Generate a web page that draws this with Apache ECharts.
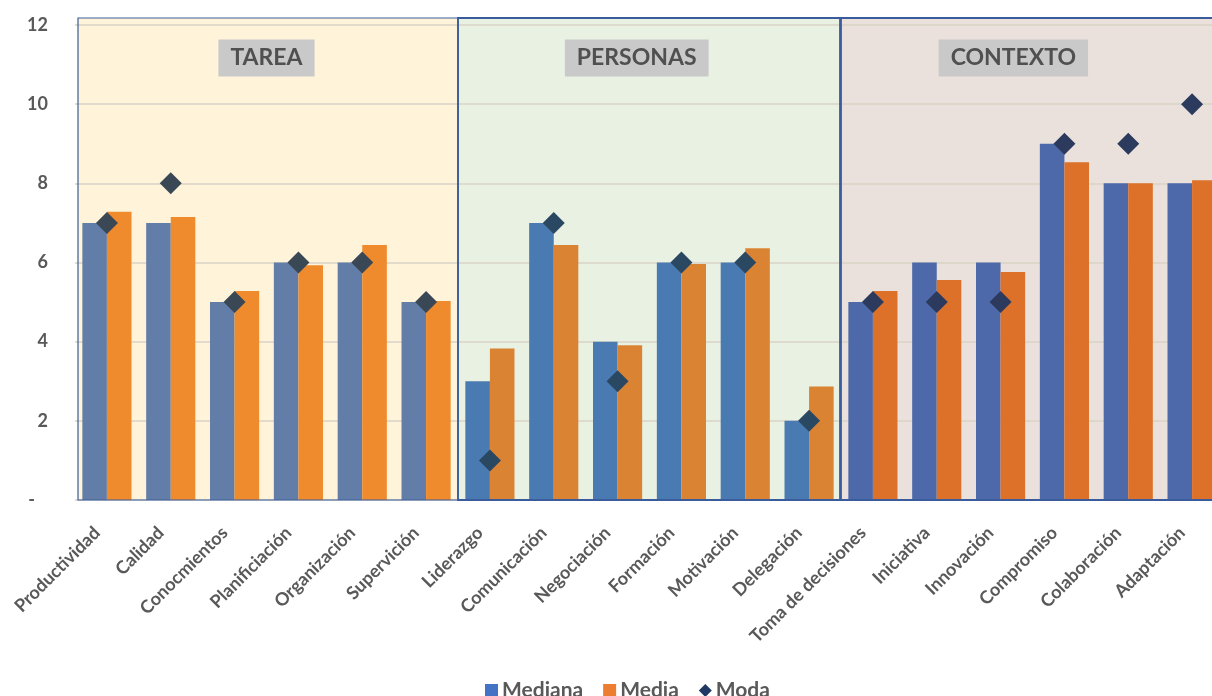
<!DOCTYPE html>
<html>
<head>
<meta charset="utf-8">
<script src="https://cdn.jsdelivr.net/npm/echarts@6/dist/echarts.min.js"></script>
<style>
  html, body { margin: 0; padding: 0; background: #ffffff; overflow: hidden; }
  /* el área de trazado continúa un poco más allá del borde derecho */
  #chart { width: 1224px; height: 696px; }
</style>
</head>
<body>
<div id="chart"></div>
<script>
// Competencias evaluadas
const categories = [
  'Productividad', 'Calidad', 'Conocmientos', 'Planificiación', 'Organización', 'Supervición',
  'Liderazgo', 'Comunicación', 'Negociación', 'Formación', 'Motivación', 'Delegación',
  'Toma de decisiones', 'Iniciativa', 'Innovación', 'Compromiso', 'Colaboración', 'Adaptación'
];

// Estadísticos por competencia
const mediana = [7, 7, 5, 6, 6, 5, 3, 7, 4, 6, 6, 2, 5, 6, 6, 9, 8, 8];
const media   = [7.28, 7.15, 5.28, 5.93, 6.44, 5.03, 3.83, 6.44, 3.91, 5.96, 6.36, 2.87, 5.28, 5.56, 5.76, 8.53, 8.0, 8.08];
const moda    = [7, 8, 5, 6, 6, 5, 1, 7, 3, 6, 6, 2, 5, 5, 5, 9, 9, 10];

// Bloques de competencias: primera y última categoría, y posición del rótulo
const bloques      = ['TAREA', 'PERSONAS', 'CONTEXTO'];
const bloqueInicio = [0, 6, 12];
const bloqueFin    = [5, 11, 17];
const rotuloPos    = [2.5, 8.3, 14.2];

// Etiquetas del eje vertical
const yTicks = [0, 2, 4, 6, 8, 10, 12];

// Paleta de cada bloque
const fondoBloque   = ['#FFF4DA', '#E9F1E3', '#EBE1DC'];
const colorMediana  = ['#627EA8', '#4A7AB2', '#4D69A9'];
const colorMedia    = ['#EF8A2D', '#DA8333', '#DD7129'];
const colorModa     = ['#3A4856', '#2B4863', '#2C3A5E'];

function bloqueDe(idx) {
  for (let b = 0; b < bloques.length; b++) {
    if (idx >= bloqueInicio[b] && idx <= bloqueFin[b]) return b;
  }
  return 0;
}

const panelData = bloques.map((nombre, i) => [bloqueInicio[i], bloqueFin[i], rotuloPos[i], i]);

const chart = echarts.init(document.getElementById('chart'), null, { renderer: 'canvas' });

const FONT = 'Lato, "Open Sans", sans-serif';

// Rectángulo de un bloque en píxeles
function marcoBloque(api, b) {
  const band = api.size([1, 0])[0];
  const pIni = api.coord([api.value(0), 0]);
  const pFin = api.coord([api.value(1), 0]);
  const pTop = api.coord([api.value(0), 12]);
  const x0 = pIni[0] - band / 2 + (b === 0 ? 3 : 0);
  const x1 = pFin[0] + band / 2 - (b === 1 ? 1 : 0);
  const y0 = pTop[1] - 7;
  const y1 = pIni[1];
  return { x0, x1, y0, y1, band };
}

chart.setOption({
  animation: false,
  backgroundColor: '#ffffff',
  grid: { left: 75, top: 25, right: 0, bottom: 196, containLabel: false },
  legend: {
    data: [
      { name: 'Mediana', icon: 'rect' },
      { name: 'Media', icon: 'rect' },
      { name: 'Moda', icon: 'diamond' }
    ],
    left: 480,
    top: 675,
    itemWidth: 13,
    itemHeight: 13,
    itemGap: 20,
    textStyle: { fontFamily: FONT, fontWeight: 'bold', fontSize: 21, color: '#595959', padding: [0, 0, 0, -1] }
  },
  xAxis: {
    type: 'category',
    data: categories,
    axisLine: { show: false },
    axisTick: { show: false },
    axisLabel: {
      interval: 0,
      rotate: 45,
      margin: 20,
      padding: [0, 14, 0, 0],
      fontFamily: FONT,
      fontWeight: 'bold',
      fontSize: 18,
      color: '#595959'
    },
    splitLine: { show: false }
  },
  yAxis: {
    type: 'value',
    min: 0,
    max: 12,
    interval: 2,
    z: 1,
    axisLine: { show: false },
    axisTick: { show: false },
    axisLabel: {
      margin: 27,
      fontFamily: FONT,
      fontWeight: 'bold',
      fontSize: 18,
      color: '#595959',
      formatter: v => (yTicks.indexOf(v) === 0 ? '-   ' : String(v))
    },
    splitLine: { lineStyle: { color: '#D8D3C6', width: 1.5 } }
  },
  series: [
    {
      // Fondos de los bloques con su rótulo
      type: 'custom',
      name: 'bloques',
      z: 0,
      silent: true,
      clip: false,
      data: panelData,
      encode: { x: 0 },
      renderItem: function (params, api) {
        const b = api.value(3);
        const m = marcoBloque(api, b);
        const pos = api.value(2);
        const base = Math.floor(pos);
        const labelX = api.coord([base, 12])[0] + (pos - base) * m.band;
        return {
          type: 'group',
          children: [
            {
              type: 'rect',
              shape: { x: m.x0, y: m.y0, width: m.x1 - m.x0, height: m.y1 - m.y0 },
              style: { fill: fondoBloque[b] },
              z2: 0
            },
            {
              type: 'text',
              x: labelX,
              y: m.y0 + 40,
              style: {
                text: bloques[b],
                fill: '#505050',
                font: 'bold 23px ' + FONT,
                align: 'center',
                verticalAlign: 'middle',
                backgroundColor: '#C9C9C9',
                padding: [7, 12, 7, 12]
              },
              z2: 3
            }
          ]
        };
      }
    },
    {
      // Marcos de los bloques
      type: 'custom',
      name: 'marcos',
      z: 4,
      silent: true,
      clip: false,
      data: panelData,
      encode: { x: 0 },
      renderItem: function (params, api) {
        const b = api.value(3);
        const m = marcoBloque(api, b);
        return {
          type: 'rect',
          shape: { x: m.x0, y: m.y0, width: m.x1 - m.x0, height: m.y1 - m.y0 },
          style: { fill: null, stroke: '#3A5C9C', lineWidth: b === 0 ? 1.2 : 1.8 }
        };
      }
    },
    {
      name: 'Mediana',
      type: 'bar',
      z: 2,
      barGap: '0%',
      barCategoryGap: '23%',
      color: '#4472C4',
      itemStyle: { color: p => colorMediana[bloqueDe(p.dataIndex)] },
      data: mediana
    },
    {
      name: 'Media',
      type: 'bar',
      z: 2,
      color: '#ED7D31',
      itemStyle: { color: p => colorMedia[bloqueDe(p.dataIndex)] },
      data: media
    },
    {
      name: 'Moda',
      type: 'scatter',
      z: 3,
      symbol: 'diamond',
      symbolSize: 22,
      color: '#1F3864',
      itemStyle: { color: p => colorModa[bloqueDe(p.dataIndex)], opacity: 1 },
      data: moda
    }
  ]
});
</script>
</body>
</html>
